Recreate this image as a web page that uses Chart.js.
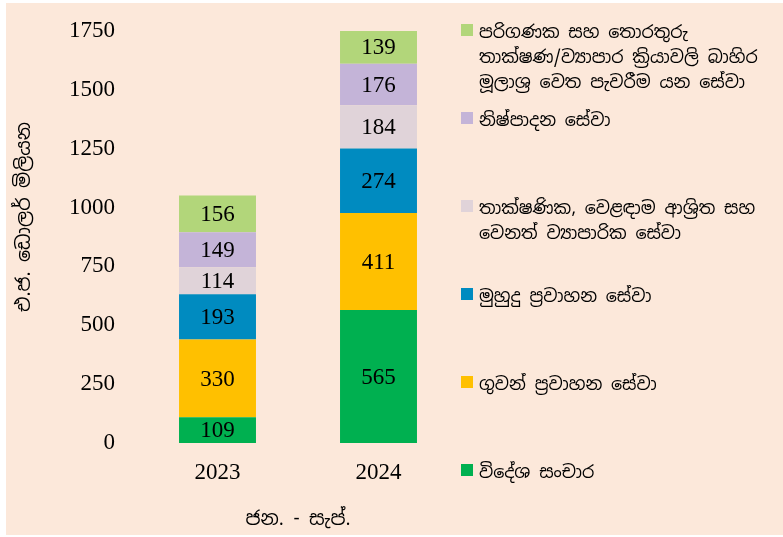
<!DOCTYPE html>
<html>
<head>
<meta charset="utf-8">
<script src="https://cdn.jsdelivr.net/npm/chart.js@4.4.1/dist/chart.umd.min.js"></script>
<style>
  body { margin: 0; background: #ffffff; }
  #wrap { position: absolute; left: 6px; top: 3px; width: 777px; height: 532px; background: #fce8da; }
</style>
</head>
<body>
<div id="wrap"><canvas id="chart" width="777" height="532"></canvas></div>
<script>
const years = ['2023', '2024'];
const yTicks = [0, 250, 500, 750, 1000, 1250, 1500, 1750];

// bottom to top of each bar
const travel = [109, 565];
const transport = [330, 411];
const seaTransport = [193, 274];
const technical = [114, 184];
const manufacturing = [149, 176];
const ictBpo = [156, 139];

const seriesLabels = [
    ['විදේශ සංචාර'],
    ['ගුවන් ප්‍රවාහන සේවා'],
    ['මුහුදු ප්‍රවාහන සේවා'],
    ['තාක්ෂණික, වෙළඳාම ආශ්‍රිත සහ', 'වෙනත් ව්‍යාපාරික සේවා'],
    ['නිෂ්පාදන සේවා'],
    ['පරිගණක සහ තොරතුරු', 'තාක්ෂණ/ව්‍යාපාර ක්‍රියාවලි බාහිර', 'මූලාශ්‍ර වෙත පැවරීම යන සේවා']
];
const seriesColors = ['#00b050', '#ffc000', '#008bc0', '#e0d3d9', '#c4b4d8', '#b2d67a'];
const seriesData = [travel, transport, seaTransport, technical, manufacturing, ictBpo];
const yTitle = 'එ.ජ. ඩොලර් මිලියන';

const numFont = '"Liberation Serif", "Times New Roman", serif';
const sinFont = '"Noto Sans Sinhala", "Noto Sans", sans-serif';

// value labels in the middle of each segment
const segmentLabels = {
    id: 'segmentLabels',
    afterDatasetsDraw(chart) {
        const ctx = chart.ctx;
        ctx.save();
        ctx.font = '23px ' + numFont;
        ctx.fillStyle = '#000';
        ctx.textAlign = 'center';
        ctx.textBaseline = 'middle';
        chart.data.datasets.forEach((ds, i) => {
            chart.getDatasetMeta(i).data.forEach((bar, j) => {
                const p = bar.getProps(['x', 'y', 'base'], true);
                ctx.fillText(ds.data[j], p.x, (p.y + p.base) / 2 + 1);
            });
        });
        ctx.restore();
    }
};

// legend on the right (top item = top of the stack) and the rotated y title
const sideLegend = {
    id: 'sideLegend',
    afterDraw(chart) {
        const ctx = chart.ctx;
        ctx.save();
        ctx.font = '17.5px ' + sinFont;
        ctx.textBaseline = 'middle';
        const n = chart.data.datasets.length;
        for (let k = 0; k < n; k++) {
            const ds = chart.data.datasets[n - 1 - k];
            const cy = 27 + k * 88;
            ctx.fillStyle = ds.backgroundColor;
            ctx.fillRect(455, cy - 6, 12, 12);
            ctx.fillStyle = '#000';
            ds.label.forEach((line, li) => {
                ctx.fillText(line, 473, cy + 3 + li * 25);
            });
        }
        ctx.translate(19, 214);
        ctx.rotate(-Math.PI / 2);
        ctx.font = '19px ' + sinFont;
        ctx.textAlign = 'center';
        ctx.fillText(yTitle, 0, 0);
        ctx.restore();
    }
};

new Chart(document.getElementById('chart'), {
    type: 'bar',
    data: {
        labels: years,
        datasets: seriesData.map((d, i) => ({
            label: seriesLabels[i],
            data: d,
            backgroundColor: seriesColors[i],
            borderWidth: 0,
            barPercentage: 0.478,
            categoryPercentage: 1
        }))
    },
    options: {
        responsive: false,
        animation: false,
        layout: { padding: { top: 10, right: 324, bottom: 0, left: 0 } },
        plugins: {
            legend: { display: false },
            tooltip: { enabled: false }
        },
        scales: {
            x: {
                stacked: true,
                grid: { display: false },
                border: { display: false },
                ticks: { color: '#000', font: { family: numFont, size: 23 }, padding: 8 },
                title: {
                    display: true,
                    text: 'ජන. - සැප්.',
                    color: '#000',
                    font: { family: sinFont, size: 19 },
                    padding: { top: 18 }
                },
                afterFit(scale) { scale.height = 92; }
            },
            y: {
                stacked: true,
                min: 0,
                max: 1750,
                grid: { display: false },
                border: { display: false },
                afterBuildTicks(scale) { scale.ticks = yTicks.map(v => ({ value: v })); },
                ticks: {
                    color: '#000',
                    font: { family: numFont, size: 23 },
                    padding: 14,
                    callback: v => String(v)
                },
                afterFit(scale) { scale.width = 131; }
            }
        }
    },
    plugins: [segmentLabels, sideLegend]
});
</script>
</body>
</html>
